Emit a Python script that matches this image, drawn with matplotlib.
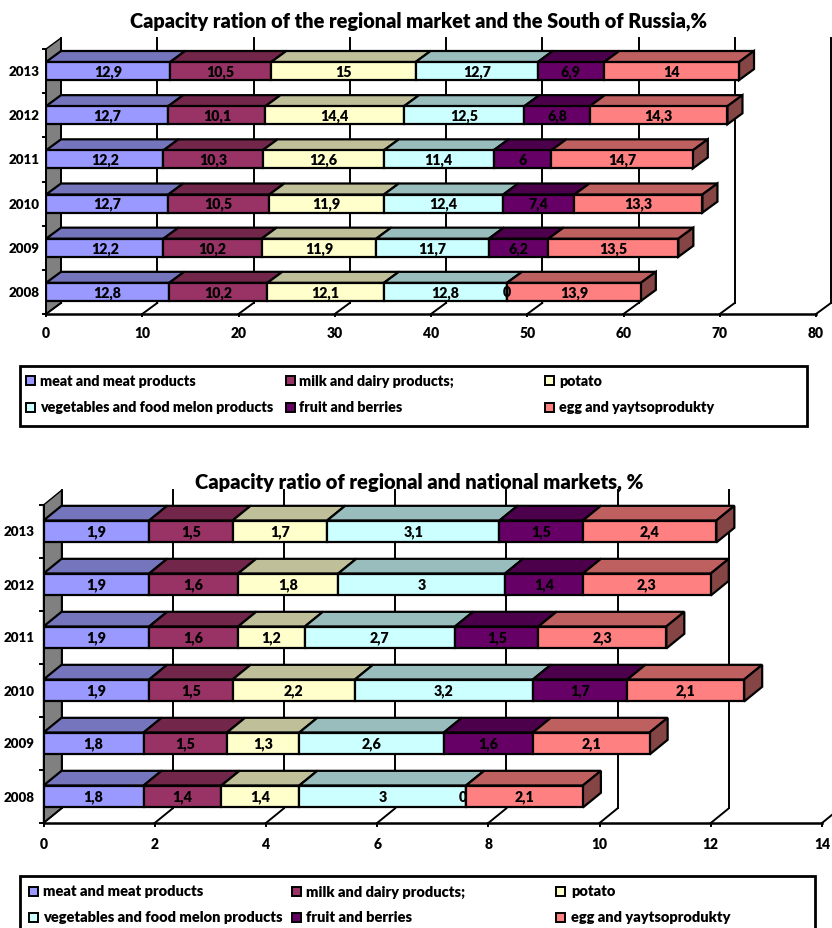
import matplotlib
matplotlib.use("Agg")
import matplotlib.pyplot as plt
from matplotlib.patches import Polygon, Rectangle

plt.rcParams['font.family'] = ['Lato', 'DejaVu Sans']
plt.rcParams['font.weight'] = 800

years = ['2008', '2009', '2010', '2011', '2012', '2013']
names = ['meat and meat products', 'milk and dairy products;', 'potato',
         'vegetables and food melon products', 'fruit and berries', 'egg and yaytsoprodukty']
front_colors = ['#9999FF', '#993366', '#FFFFCC', '#CCFFFF', '#660066', '#FF8080']
top_colors = ['#7575BD', '#722649', '#BFBF99', '#99BDBD', '#4C004C', '#BF6060']
side_color = '#854545'

# values per product, 2008..2013
south_meat = [12.8, 12.2, 12.7, 12.2, 12.7, 12.9]
south_milk = [10.2, 10.2, 10.5, 10.3, 10.1, 10.5]
south_potato = [12.1, 11.9, 11.9, 12.6, 14.4, 15]
south_veg = [12.8, 11.7, 12.4, 11.4, 12.5, 12.7]
south_fruit = [0, 6.2, 7.4, 6, 6.8, 6.9]
south_egg = [13.9, 13.5, 13.3, 14.7, 14.3, 14]

nat_meat = [1.8, 1.8, 1.9, 1.9, 1.9, 1.9]
nat_milk = [1.4, 1.5, 1.5, 1.6, 1.6, 1.5]
nat_potato = [1.4, 1.3, 2.2, 1.2, 1.8, 1.7]
nat_veg = [3, 2.6, 3.2, 2.7, 3, 3.1]
nat_fruit = [0, 1.6, 1.7, 1.5, 1.4, 1.5]
nat_egg = [2.1, 2.1, 2.1, 2.3, 2.3, 2.4]

south_ticks = [0, 10, 20, 30, 40, 50, 60, 70, 80]
nat_ticks = [0, 2, 4, 6, 8, 10, 12, 14]

W, H = 832, 929
fig = plt.figure(figsize=(W / 100, H / 100), dpi=100)


def make_axes(x0, x1, y_top, y_bottom):
    return fig.add_axes([x0 / W, 1 - y_bottom / H, (x1 - x0) / W, (y_bottom - y_top) / H])


def stacked_3d(ax, series, ticks, dx, dy, bar_h, zero_on_top, ylabel_x, xlabel_y):
    n = len(years)
    ax.set_xlim(ticks[0], ticks[-1])
    ax.set_ylim(-0.5, n - 0.5)
    ax.axis('off')
    low, high = -0.5, n - 0.5

    # left wall, floor lines, back wall lines
    ax.add_patch(Polygon([(0, low), (dx, low + dy), (dx, high + dy), (0, high)],
                         facecolor='#808080', edgecolor='black', lw=1.0, zorder=1, clip_on=False))
    for t in ticks:
        ax.plot([t, t + dx], [low, low + dy], color='black', lw=1.4, zorder=1, clip_on=False)
        ax.plot([t + dx, t + dx], [low + dy, high + dy], color='black', lw=1.4, zorder=1, clip_on=False)
        ax.plot([t, t], [low, low - 0.05], color='black', lw=1.4, zorder=1, clip_on=False)
        ax.text(t, xlabel_y, str(t), ha='center', va='center', fontsize=10, clip_on=False)
    ax.plot([ticks[0], ticks[-1]], [low, low], color='black', lw=1.8, zorder=2, clip_on=False)
    ax.plot([0, 0], [low, high], color='black', lw=1.4, zorder=2, clip_on=False)
    for i in range(n + 1):
        ax.plot([-ticks[1] * 0.03, 0], [i - 0.5, i - 0.5], color='black', lw=1.4, zorder=2, clip_on=False)

    for i in range(n):
        left = 0
        for s, vals in enumerate(series):
            v = vals[i]
            # later segments sit above earlier ones, so a 0 label gets cut by the next bar
            bar_z = 4 + s * 0.1
            ax.barh(i, v, left=left, height=bar_h, color=front_colors[s], edgecolor='black',
                    lw=1.6, zorder=bar_z)
            up = i + bar_h / 2
            ax.add_patch(Polygon([(left, up), (left + v, up), (left + v + dx, up + dy), (left + dx, up + dy)],
                                 facecolor=top_colors[s], edgecolor='black', lw=1.6, zorder=3, clip_on=False))
            lab = str(v).replace('.', ',')
            z = 5 if (v != 0 or zero_on_top) else bar_z + 0.05
            nudge = 0 if (v != 0 or zero_on_top) else -0.05
            ax.text(left + v / 2 + nudge, i, lab, ha='center', va='center', fontsize=10.3, zorder=z)
            left += v
        dn = i - bar_h / 2
        up = i + bar_h / 2
        ax.add_patch(Polygon([(left, dn), (left + dx, dn + dy), (left + dx, up + dy), (left, up)],
                             facecolor=side_color, edgecolor='black', lw=1.6, zorder=3, clip_on=False))
        ax.text(ylabel_x, i, years[i], ha='right', va='center', fontsize=9.6, clip_on=False)


def legend_box(x0, x1, y0, y1, rows, mark_x, text_x, size):
    fig.add_artist(Rectangle((x0 / W, 1 - y1 / H), (x1 - x0) / W, (y1 - y0) / H, transform=fig.transFigure,
                             facecolor='white', edgecolor='black', lw=2.0, clip_on=True))
    for k, name in enumerate(names):
        col = k % 3
        y = rows[k // 3]
        fig.add_artist(Rectangle((mark_x[col] / W, 1 - (y + 4.5) / H), 9 / W, 9 / H, transform=fig.transFigure,
                                 facecolor=front_colors[k], edgecolor='black', lw=1.4))
        fig.text(text_x[col] / W, 1 - y / H, name, ha='left', va='center', fontsize=size)


ax1 = make_axes(46, 816, 50, 315)
stacked_3d(ax1, [south_meat, south_milk, south_potato, south_veg, south_fruit, south_egg],
           south_ticks, 1.56, 0.25, 0.41, True, -0.7, -0.92)
fig.text(418 / W, 1 - 21 / H, 'Capacity ration of the regional market and the South of Russia,%',
         ha='center', va='center', fontsize=14.3)
legend_box(20, 807, 367, 427, [381.5, 408], [26, 286, 545], [40, 299, 559], 10.3)

ax2 = make_axes(43.5, 822, 506, 824)
stacked_3d(ax2, [nat_meat, nat_milk, nat_potato, nat_veg, nat_fruit, nat_egg],
           nat_ticks, 0.324, 0.277, 0.415, False, -0.16, -0.88)
fig.text(419 / W, 1 - 482 / H, 'Capacity ratio of regional and national markets, %',
         ha='center', va='center', fontsize=14.5)
legend_box(20, 815, 877, 945, [892, 918], [29, 292, 556], [43, 306, 571], 10.5)

fig.savefig('out.png', dpi=100)
